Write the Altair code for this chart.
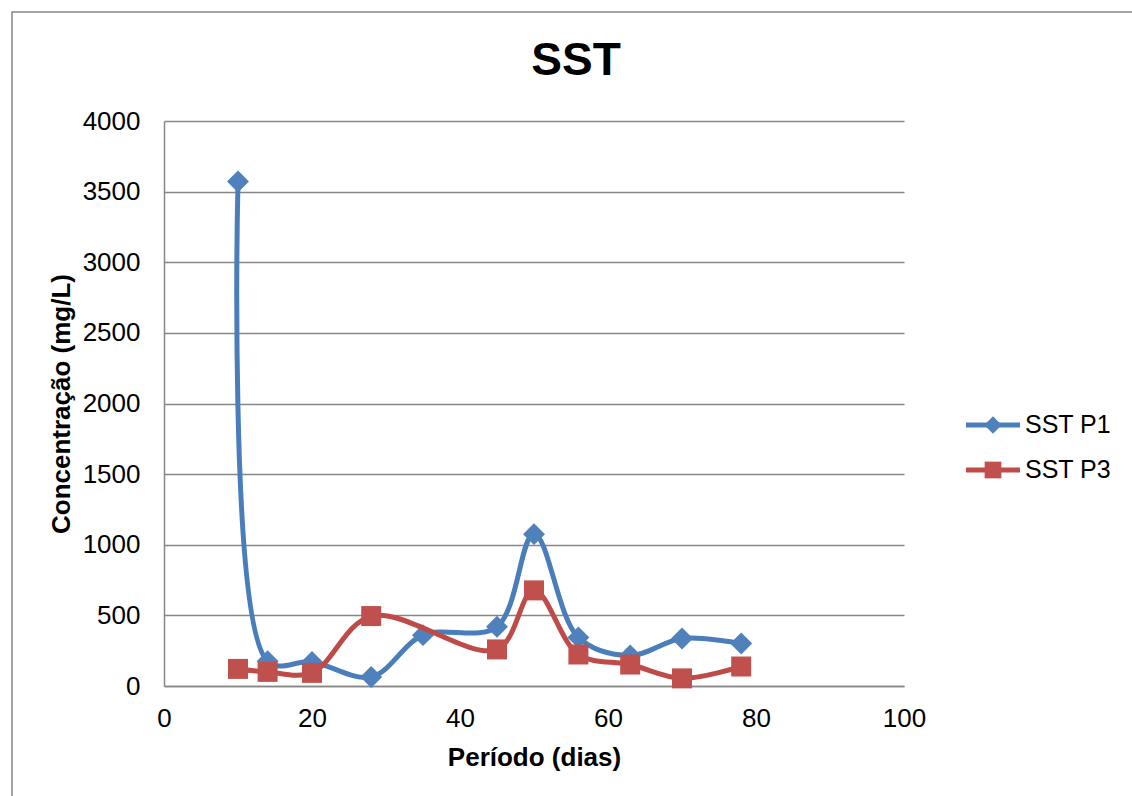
import altair as alt
import pandas as pd

days = [10, 14, 20, 28, 35, 45, 50, 56, 63, 70, 78]
sst_p1 = [3572, 175, 170, 64, 360, 420, 1075, 344, 216, 336, 301]
days_p3 = [10, 14, 20, 28, 45, 50, 56, 63, 70, 78]
sst_p3 = [121, 100, 93, 495, 259, 677, 223, 152, 54, 138]

series = ["SST P1", "SST P3"]
line_colors = ["#4A7EBB", "#BE4B48"]
marker_colors = ["#4F81BD", "#C0504D"]
shapes = ["diamond", "square"]
sizes = [480, 400]

df = pd.DataFrame(
    {"dia": days + days_p3,
     "valor": sst_p1 + sst_p3,
     "serie": ["SST P1"] * len(days) + ["SST P3"] * len(days_p3)}
)

FONT = "Liberation Sans"
W, H = 740, 565
PAD_L, PAD_T, PAD_R, PAD_B = 164, 121, 228, 110

x_enc = alt.X("dia:Q",
              scale=alt.Scale(domain=[0, 100], nice=False, zero=True),
              axis=alt.Axis(values=[0, 20, 40, 60, 80, 100], grid=False,
                            format="d", labelFlush=False, labelOverlap=False,
                            title="Período (dias)", titleY=71,
                            titleBaseline="middle", labelPadding=19))
y_enc = alt.Y("valor:Q",
              scale=alt.Scale(domain=[0, 4000], nice=False),
              axis=alt.Axis(values=list(range(0, 4001, 500)), grid=True,
                            format="d", labelFlush=False, labelOverlap=False,
                            title="Concentração (mg/L)", titleX=-103,
                            titleY=H / 2, titleBaseline="middle",
                            labelPadding=24))

layers = []
for s, lc, mc, sh, sz in zip(series, line_colors, marker_colors, shapes, sizes):
    base = alt.Chart(df).transform_filter(alt.datum.serie == s)
    layers.append(base.mark_line(interpolate="catmull-rom", strokeWidth=5,
                                 color=lc).encode(x=x_enc, y=y_enc))
    layers.append(base.mark_point(shape=sh, filled=True, opacity=1,
                                  size=sz, color=mc).encode(x=x_enc, y=y_enc))

one = pd.DataFrame({"k": [0]})

# outer chart border (top and left visible)
border = alt.Chart(one).mark_rect(fillOpacity=0, stroke="#868686",
                                  strokeWidth=1.5).encode(
    x=alt.value(12 - PAD_L), x2=alt.value(W + PAD_R + 10),
    y=alt.value(12 - PAD_T), y2=alt.value(H + PAD_B + 10))

# chart title
title = alt.Chart(pd.DataFrame({"t": ["SST"]})).mark_text(
    align="center", baseline="middle", fontSize=46, fontWeight="bold",
    font=FONT, color="#000000").encode(
    x=alt.value(576 - PAD_L), y=alt.value(61 - PAD_T), text="t:N")

# legend
leg_y = [304, 349]
legend_layers = []
for s, lc, mc, sh, ly in zip(series, line_colors, marker_colors, shapes, leg_y):
    legend_layers.append(alt.Chart(one).mark_rule(color=lc, strokeWidth=5).encode(
        x=alt.value(802), x2=alt.value(856), y=alt.value(ly)))
    legend_layers.append(alt.Chart(one).mark_point(shape=sh, filled=True, opacity=1,
                                                   size=300 if sh == "diamond" else 280,
                                                   color=mc).encode(
        x=alt.value(829), y=alt.value(ly)))
    legend_layers.append(alt.Chart(pd.DataFrame({"t": [s]})).mark_text(
        align="left", baseline="middle", fontSize=25, font=FONT, color="#000000").encode(
        x=alt.value(861), y=alt.value(ly), text="t:N"))

chart = alt.layer(border, title, *layers, *legend_layers).properties(
    width=W, height=H,
    background="white",
    autosize=alt.AutoSizeParams(type="none"),
    padding={"left": PAD_L, "top": PAD_T, "right": PAD_R, "bottom": PAD_B},
).configure_view(stroke=None).configure_axis(
    labelFont=FONT, labelFontSize=26, labelColor="#000000",
    titleFont=FONT, titleFontSize=26, titleFontWeight="bold", titleColor="#000000",
    tickSize=0, ticks=False, domainColor="#868686", domainWidth=1.5,
    gridColor="#868686", gridWidth=1.5, gridOpacity=1,
)

chart.save("out.html", embed_options={"renderer": "svg", "actions": False})
